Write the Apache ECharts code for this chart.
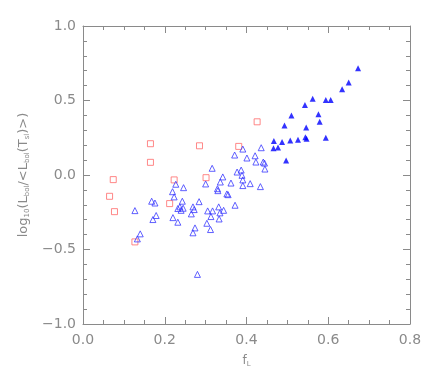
<!DOCTYPE html>
<html>
<head>
<meta charset="utf-8">
<script src="https://cdn.jsdelivr.net/npm/echarts@6/dist/echarts.min.js"></script>
<style>
  html, body { margin: 0; padding: 0; background: #fff; }
  #container { width: 436px; height: 378px; }
</style>
</head>
<body>
<div id="container"></div>
<script>
// red open squares
var squareX = [0.065, 0.074, 0.077, 0.165, 0.165, 0.127, 0.212, 0.223, 0.285, 0.301, 0.381, 0.426];
var squareY = [-0.143, -0.031, -0.246, 0.21, 0.085, -0.449, -0.192, -0.033, 0.196, -0.018, 0.192, 0.357];

// blue open triangles
var openX = [0.371, 0.391, 0.436, 0.421, 0.401, 0.423, 0.441, 0.444, 0.445, 0.316,
	0.377, 0.387, 0.389, 0.391, 0.391, 0.409, 0.434, 0.362, 0.342, 0.336,
	0.329, 0.330, 0.300, 0.352, 0.355, 0.372, 0.284, 0.332, 0.344, 0.317,
	0.305, 0.335, 0.333, 0.313, 0.303, 0.312, 0.280, 0.274, 0.269, 0.269,
	0.272, 0.265, 0.246, 0.227, 0.219, 0.223, 0.243, 0.245, 0.232, 0.237,
	0.240, 0.220, 0.232, 0.168, 0.176, 0.179, 0.171, 0.127, 0.140, 0.133];
var openY = [0.134, 0.174, 0.183, 0.129, 0.114, 0.087, 0.087, 0.080, 0.040, 0.045,
	0.020, 0.033, -0.002, -0.033, -0.071, -0.058, -0.078, -0.054, -0.013, -0.047,
	-0.092, -0.105, -0.060, -0.127, -0.132, -0.203, -0.179, -0.214, -0.237, -0.241,
	-0.241, -0.254, -0.295, -0.279, -0.324, -0.366, -0.667, -0.355, -0.388, -0.214,
	-0.232, -0.261, -0.085, -0.062, -0.112, -0.147, -0.176, -0.223, -0.225, -0.214,
	-0.237, -0.286, -0.317, -0.176, -0.188, -0.272, -0.299, -0.239, -0.395, -0.429];

// blue filled triangles
var filledX = [0.673, 0.650, 0.634, 0.562, 0.594, 0.606, 0.543, 0.510, 0.576, 0.579, 0.493,
	0.546, 0.467, 0.487, 0.507, 0.526, 0.544, 0.547, 0.594, 0.466, 0.477, 0.497];
var filledY = [0.717, 0.62, 0.576, 0.511, 0.504, 0.504, 0.469, 0.40, 0.408, 0.357, 0.333,
	0.319, 0.228, 0.221, 0.232, 0.237, 0.254, 0.243, 0.25, 0.179, 0.185, 0.098];

function pairs(xs, ys) {
	var out = [];
	for (var i = 0; i < xs.length; i++) {
		out.push([xs[i], ys[i]]);
	}
	return out;
}

var axisGray = '#8a8a8a';
var labelFont = 'DejaVu Sans';

function xAxisDef(pos, showLabel) {
	return {
		type: 'value',
		position: pos,
		min: 0, max: 0.8, interval: 0.2,
		name: showLabel ? 'f{sub|L}' : '',
		nameLocation: 'middle',
		nameGap: 29,
		nameTextStyle: {
			color: axisGray, fontFamily: labelFont, fontSize: 12,
			rich: { sub: { fontSize: 7, verticalAlign: 'bottom', color: axisGray, padding: [8, 0, 0, 0] } }
		},
		axisLine: { show: true, onZero: false, lineStyle: { color: axisGray, width: 1 } },
		axisTick: { show: true, inside: true, length: 7, lineStyle: { color: axisGray } },
		minorTick: { show: true, splitNumber: 4, length: 4, lineStyle: { color: axisGray } },
		axisLabel: {
			show: showLabel, color: axisGray, fontFamily: labelFont, fontSize: 14, margin: 9,
			formatter: function (v) { return v.toFixed(1); }
		},
		splitLine: { show: false }
	};
}

function yAxisDef(pos, showLabel) {
	return {
		type: 'value',
		position: pos,
		min: -1, max: 1, interval: 0.5,
		name: showLabel ? 'log{sub|10}(L{sub|bol}/<L{sub|bol}(T{sub|sl})>)' : '',
		nameLocation: 'middle',
		nameRotate: 90,
		nameGap: 46,
		nameTextStyle: {
			color: axisGray, fontFamily: labelFont, fontSize: 13,
			rich: {
				sub: { fontSize: 7, color: axisGray, fontFamily: labelFont, verticalAlign: 'bottom', padding: [8, 0, 0, 0] }
			}
		},
		axisLine: { show: true, onZero: false, lineStyle: { color: axisGray, width: 1 } },
		axisTick: { show: true, inside: true, length: 7, lineStyle: { color: axisGray } },
		minorTick: { show: true, splitNumber: 5, length: 4, lineStyle: { color: axisGray } },
		axisLabel: {
			show: showLabel, color: axisGray, fontFamily: labelFont, fontSize: 14, margin: 7,
			formatter: function (v) { return v.toFixed(1).replace('-', '\u2212'); }
		},
		splitLine: { show: false }
	};
}

var dom = document.getElementById('container');
var myChart = echarts.init(dom);
var option = {
	backgroundColor: '#fff',
	animation: false,
	grid: { left: 83, right: 26, top: 26, bottom: 54 },
	xAxis: [xAxisDef('bottom', true), xAxisDef('top', false)],
	yAxis: [yAxisDef('left', true), yAxisDef('right', false)],
	series: [{
		type: 'scatter',
		symbol: 'rect',
		symbolSize: 6,
		itemStyle: { color: 'none', borderColor: '#ff6a6a', borderWidth: 1 },
		data: pairs(squareX, squareY)
	}, {
		type: 'scatter',
		symbol: 'triangle',
		symbolSize: 6,
		itemStyle: { color: 'none', borderColor: '#3a3aff', borderWidth: 1 },
		data: pairs(openX, openY)
	}, {
		type: 'scatter',
		symbol: 'triangle',
		symbolSize: 6,
		itemStyle: { color: '#0000ff' },
		data: pairs(filledX, filledY)
	}]
};
myChart.setOption(option, true);
</script>
</body>
</html>
